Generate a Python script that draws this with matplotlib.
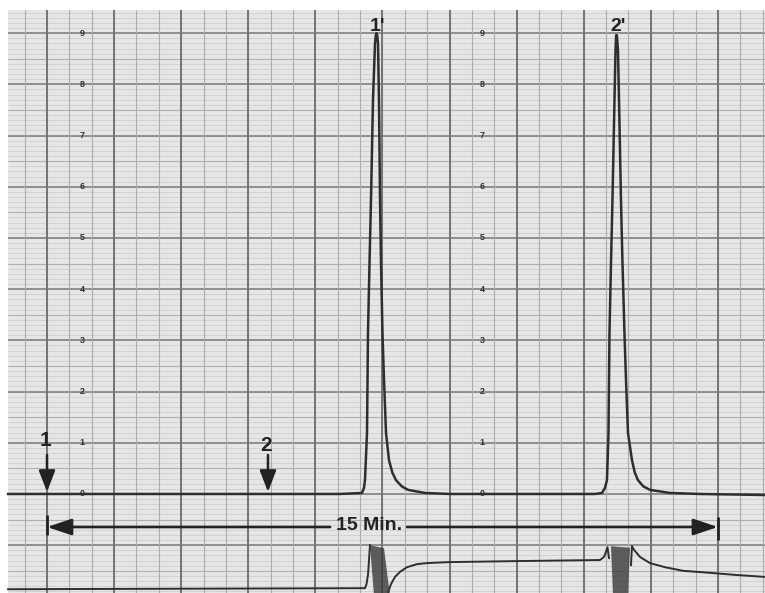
import numpy as np
import matplotlib
matplotlib.use("Agg")
import matplotlib.pyplot as plt
from matplotlib.patches import Rectangle

plt.rcParams['font.family'] = ['Liberation Sans', 'DejaVu Sans']

# ---------------- data (time in minutes, signal in chart units) ----------------
upper_t = [-0.87, 6.55, 7.042, 7.087, 7.109, 7.154, 7.176, 7.210, 7.243, 7.288,
           7.333, 7.352, 7.366, 7.382, 7.400, 7.422, 7.445, 7.467, 7.500, 7.534,
           7.579, 7.646, 7.720, 7.802, 7.930, 8.071, 8.451, 9.009,
           12.251, 12.408, 12.475, 12.519, 12.553,
           12.575, 12.609, 12.642, 12.687, 12.710, 12.724, 12.740, 12.765, 12.788,
           12.832, 12.866, 12.910, 12.944, 12.989, 13.078, 13.140, 13.212, 13.330,
           13.481, 13.928, 14.599, 16.052]
upper_v = [0.0, 0.0, 0.02, 0.12, 0.27, 1.19, 3.14, 4.51, 5.74, 7.70,
           8.80, 8.96, 9.00, 8.96, 8.80, 7.70, 5.74, 4.51, 3.14, 2.23,
           1.19, 0.66, 0.42, 0.27, 0.15, 0.08, 0.02, 0.0,
           0.0, 0.02, 0.12, 0.27, 1.19,
           3.14, 4.51, 5.74, 7.70, 8.67, 8.96, 8.96, 8.67, 7.70,
           5.74, 4.51, 3.14, 2.23, 1.19, 0.66, 0.42, 0.27, 0.15,
           0.08, 0.02, 0.0, -0.02]

lower_a_t = [-0.87, 7.109, 7.143, 7.176, 7.199, 7.221]
lower_a_v = [-1.86, -1.84, -1.76, -1.58, -1.29, -1.00]

lower_b_t = [7.624, 7.690, 7.780, 7.892, 8.048, 8.272, 8.495, 9.009, 10.574,
             12.363, 12.452, 12.497, 12.530, 12.564]
lower_b_v = [-1.93, -1.76, -1.62, -1.52, -1.43, -1.37, -1.35, -1.33, -1.31,
             -1.29, -1.23, -1.13, -1.04, -1.25]

lower_c_t = [13.056, 13.078, 13.123, 13.257, 13.481, 13.816, 14.219, 14.823,
             15.381, 16.052]
lower_c_v = [-1.39, -1.02, -1.09, -1.23, -1.35, -1.43, -1.50, -1.54, -1.58, -1.62]

band1_t = [7.221, 7.534, 7.668, 7.310]
band1_v = [-1.00, -1.06, -1.98, -1.98]
band2_t = [12.609, 13.033, 12.989, 12.654]
band2_v = [-1.02, -1.05, -1.98, -1.98]

scale_values = list(range(10))
scale_labels = [str(v) for v in scale_values]
scale_columns = [0.78, 9.725]

inject_times = [0.0, 4.94]
inject_labels = ['1', '2']
peak_times = [7.366, 12.732]
peak_labels = ["1'", "2'"]
span_start, span_end = 0.0, 15.0
span_label = '15 Min.'

# ---------------- figure ----------------
fig = plt.figure(figsize=(7.65, 5.93), dpi=100)
fig.patch.set_facecolor('white')
ax = fig.add_axes([0, 0, 1, 1])
ax.set_xlim(-1.051, 16.052)
ax.set_ylim(-1.934, 9.648)
ax.axis('off')

paper_left, paper_top = -0.87, 9.45
ax.add_patch(Rectangle((paper_left, -3), 20, paper_top + 3,
                       facecolor='#e6e6e6', edgecolor='none', zorder=0))

# chart paper grid
for v in np.arange(-1.9, paper_top, 0.1):
    ax.hlines(v, paper_left, 17, color='#cfcfcf', lw=0.6, zorder=1)
for v in np.arange(-1.5, paper_top, 1.0):
    ax.hlines(v, paper_left, 17, color='#b0b0b0', lw=0.8, zorder=1)
for v in np.arange(-1.0, paper_top, 1.0):
    ax.hlines(v, paper_left, 17, color='#828282', lw=1.2, zorder=1)
for t in np.arange(-0.5, 16.5, 0.5):
    ax.vlines(t, -3, paper_top, color='#acacac', lw=0.8, zorder=1)
for t in np.arange(0.0, 16.5, 1.5):
    ax.vlines(t, -3, paper_top, color='#747474', lw=1.4, zorder=1)

# scale numbers
for col in scale_columns:
    for v, lab in zip(scale_values, scale_labels):
        ax.text(col, v, lab, fontsize=6.5, fontweight='bold', color='#333333',
                ha='center', va='center', zorder=3)

trace_col = '#2e2e2e'
ax.plot(upper_t, upper_v, color=trace_col, lw=1.8, zorder=4,
        solid_joinstyle='round')
for tt, vv in [(lower_a_t, lower_a_v), (lower_b_t, lower_b_v), (lower_c_t, lower_c_v)]:
    ax.plot(tt, vv, color=trace_col, lw=1.4, zorder=4, solid_joinstyle='round')
for bt, bv in [(band1_t, band1_v), (band2_t, band2_v)]:
    ax.fill(bt, bv, color='#3a3a3a', alpha=0.8, lw=0, zorder=4)

# injection arrows
for t, lab, ty in zip(inject_times, inject_labels, [1.04, 0.94]):
    ax.annotate('', xy=(t, 0.04), xytext=(t, 0.76),
                arrowprops=dict(arrowstyle='-|>,head_length=1.3,head_width=0.5',
                                lw=1.8, color='#222222', mutation_scale=10,
                                shrinkA=0, shrinkB=0), zorder=5)
    ax.text(t - 0.04, ty, lab, fontsize=15, fontweight='bold', color='#222222',
            ha='center', va='center', zorder=5)

# peak labels
for t, lab in zip(peak_times, peak_labels):
    ax.text(t + 0.03, 9.13, lab, fontsize=14, fontweight='bold', color='#222222',
            ha='center', va='center', zorder=5)

# 15 min span
yd = -0.645
ax.annotate('', xy=(span_start, yd), xytext=(6.33, yd),
            arrowprops=dict(arrowstyle='-|>,head_length=1.5,head_width=0.5',
                            lw=1.9, color='#222222', mutation_scale=10,
                            shrinkA=0, shrinkB=0), zorder=5)
ax.annotate('', xy=(span_end, yd), xytext=(8.05, yd),
            arrowprops=dict(arrowstyle='-|>,head_length=1.5,head_width=0.5',
                            lw=1.9, color='#222222', mutation_scale=10,
                            shrinkA=0, shrinkB=0), zorder=5)
ax.vlines(span_start, -0.80, -0.41, color='#222222', lw=2.0, zorder=5)
ax.vlines(span_end, -0.90, -0.45, color='#222222', lw=2.0, zorder=5)
ax.text(7.20, yd + 0.02, span_label, fontsize=14, fontweight='bold', color='#222222',
        ha='center', va='center', zorder=5)

fig.savefig('out.png', dpi=100, facecolor='white')
